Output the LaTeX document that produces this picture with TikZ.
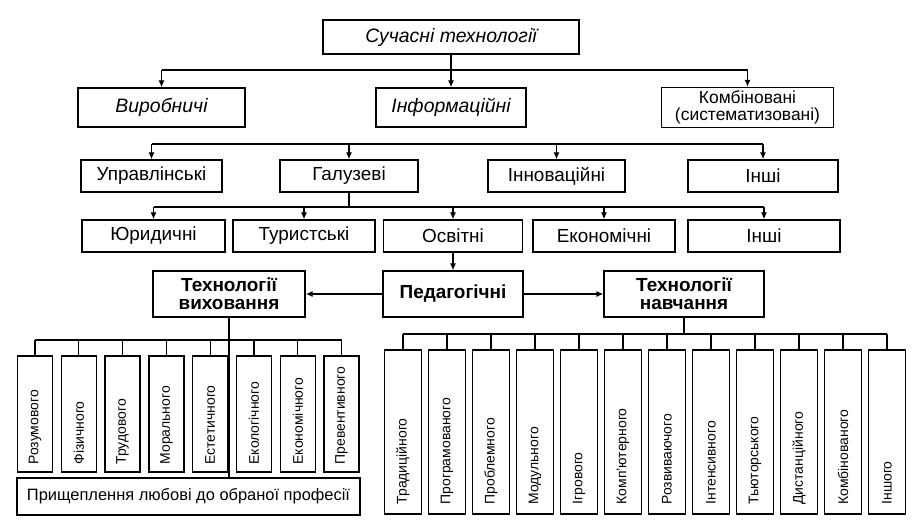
\documentclass[tikz,border=0pt]{standalone}
\usepackage{fontspec}
\setmainfont{Liberation Sans}
\usetikzlibrary{arrows.meta}
\begin{document}
\begin{tikzpicture}[x=1bp,y=-1bp,
  box/.style={draw, line width=1.3bp, inner sep=0pt, align=center},
  arr/.style={-{Latex[length=7bp,width=6bp]}, line width=1.3bp},
  ln/.style={line width=1.3bp},
  itf/.style={font=\fontsize{19.5}{21}\selectfont\itshape},
  rgf/.style={font=\fontsize{19}{20}\selectfont},
  bdf/.style={font=\fontsize{19}{18}\selectfont\bfseries},
  vbA/.style={draw, line width=1.3bp, inner sep=0pt, minimum width=35bp, minimum height=116bp},
  vbB/.style={draw, line width=1.3bp, inner sep=0pt, minimum width=37bp, minimum height=164bp},
  vtxt/.style={rotate=90, anchor=west, inner sep=0pt, font=\fontsize{14}{15}\selectfont}]
\useasboundingbox (0,0) rectangle (913,532);

% top
\node[box, itf, minimum width=256bp, minimum height=34bp] (top) at (451,37) {Сучасні технології};
% level 1
\node[box, itf, minimum width=167bp, minimum height=39bp] (vyr) at (161.5,107.5) {Виробничі};
\node[box, itf, minimum width=150bp, minimum height=39bp] (inf) at (451,107.5) {Інформаційні};
\node[box, font=\fontsize{17.5}{16.5}\selectfont, minimum width=172bp, minimum height=40bp] (komb) at (747.5,107.5) {Комбіновані\\(систематизовані)};
\coordinate (b1) at (451,70);
\draw[ln] (top.south) -- (b1);
\draw[ln] (vyr.north |- b1) -- (komb.north |- b1);
\draw[arr] (vyr.north |- b1) -- (vyr.north);
\draw[arr] (b1) -- (inf.north);
\draw[arr] (komb.north |- b1) -- (komb.north);

% level 2
\node[box, rgf, minimum width=141bp, minimum height=32bp] (upr) at (151.5,176) {Управлінські};
\node[box, rgf, minimum width=138bp, minimum height=32bp] (gal) at (349,176) {Галузеві};
\node[box, rgf, minimum width=137bp, minimum height=32bp] (inn) at (556.5,176) {Інноваційні};
\node[box, rgf, minimum width=150bp, minimum height=32bp] (insh1) at (763,176) {Інші};
\coordinate (b2) at (349,144);
\draw[ln] (upr.north |- b2) -- (insh1.north |- b2);
\foreach \n in {upr,gal,inn,insh1} \draw[arr] (\n.north |- b2) -- (\n.north);

% level 3
\node[box, rgf, minimum width=143bp, minimum height=32bp] (yur) at (153.5,236) {Юридичні};
\node[box, rgf, minimum width=142bp, minimum height=32bp] (tur) at (304,236) {Туристські};
\node[box, rgf, minimum width=139bp, minimum height=32bp] (osv) at (453,236) {Освітні};
\node[box, rgf, minimum width=142bp, minimum height=32bp] (ekon) at (604,236) {Економічні};
\node[box, rgf, minimum width=152bp, minimum height=32bp] (insh2) at (764,236) {Інші};
\coordinate (b3) at (349,207);
\draw[ln] (gal.south) -- (b3);
\draw[ln] (yur.north |- b3) -- (insh2.north |- b3);
\foreach \n in {yur,tur,osv,ekon,insh2} \draw[arr] (\n.north |- b3) -- (\n.north);

% pedagogical
\node[box, bdf, minimum width=140bp, minimum height=46bp] (ped) at (453,294) {Педагогічні};
\node[box, bdf, minimum width=152bp, minimum height=46bp] (vykh) at (229,294) {Технології\\виховання};
\node[box, bdf, minimum width=160bp, minimum height=46bp] (navch) at (684,294) {Технології\\навчання};
\draw[arr] (osv.south) -- (ped.north);
\draw[arr] (ped.west) -- (vykh.east);
\draw[arr] (ped.east) -- (navch.west);

% vykhovannia branch
\node[box, font=\fontsize{16.5}{18}\selectfont, minimum width=343bp, minimum height=37bp] (pry) at (188.5,496.5) {Прищеплення любові до обраної професії};
\coordinate (b4) at (229,340);
\draw[ln] (vykh.south) -- (vykh.south |- pry.north);
\foreach \t [count=\i] in {Розумового,Фізичного,Трудового,Морального,Естетичного,Екологічного,Економічного,Превентивного}{
  \node[vbA] (va\i) at ({35+43.8*(\i-1)},414) {};
  \node[vtxt] (ta\i) at ([yshift=8bp]va\i.south) {\t};
}
\draw[ln] (va1.north |- b4) -- (va8.north |- b4);
\foreach \i in {1,...,8} \draw[ln] (va\i.north |- b4) -- (va\i.north);

% navchannia branch
\coordinate (b5) at (684,334);
\draw[ln] (navch.south) -- (b5);
\foreach \t [count=\i] in {Традиційного,Програмованого,Проблемного,Модульного,Ігрового,Комп'ютерного,Розвиваючого,Інтенсивного,Тьюторського,Дистанційного,Комбінованого,Іншого}{
  \node[vbB] (vb\i) at ({403+44*(\i-1)},432) {};
  \node[vtxt] (tb\i) at ([yshift=10bp]vb\i.south) {\t};
}
\draw[ln] (vb1.north |- b5) -- (vb12.north |- b5);
\foreach \i in {1,...,12} \draw[ln] (vb\i.north |- b5) -- (vb\i.north);
\end{tikzpicture}
\end{document}
